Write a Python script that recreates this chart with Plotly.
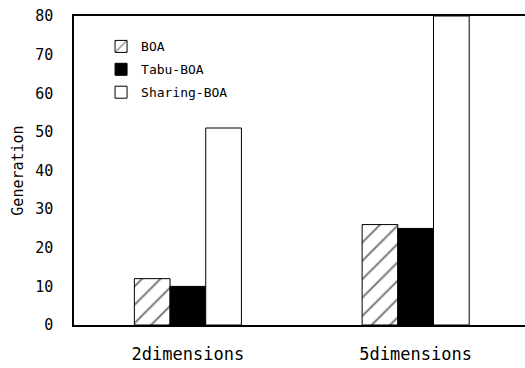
import plotly.graph_objects as go

categories = ["2dimensions", "5dimensions"]
series_names = ["BOA", "Tabu-BOA", "Sharing-BOA"]
boa = [12, 26]
tabu = [10, 25]
sharing = [51, 80]
y_ticks = [0, 10, 20, 30, 40, 50, 60, 70, 80]

FONT = "DejaVu Sans Mono"

fig = go.Figure()
fig.add_trace(go.Bar(
    x=categories, y=boa, name=series_names[0], legendgroup="a",
    marker=dict(color="white", line=dict(color="black", width=1),
                pattern=dict(shape="/", size=13, solidity=0.16, fgcolor="black", bgcolor="white")),
))
fig.add_trace(go.Bar(
    x=categories, y=tabu, name=series_names[1], legendgroup="b",
    marker=dict(color="black", line=dict(color="black", width=1)),
))
fig.add_trace(go.Bar(
    x=categories, y=sharing, name=series_names[2], legendgroup="c",
    marker=dict(color="white", line=dict(color="black", width=1)),
))

fig.update_layout(
    width=525, height=368,
    margin=dict(l=74, r=0, t=16, b=43),
    paper_bgcolor="white", plot_bgcolor="white",
    barmode="group", bargap=0.53, bargroupgap=0,
    font=dict(family=FONT, color="black"),
    showlegend=True,
    legend=dict(x=0.06, y=0.95, xanchor="left", yanchor="top",
                font=dict(size=13, family=FONT), bgcolor="rgba(0,0,0,0)",
                tracegroupgap=3, itemwidth=30),
    xaxis=dict(range=[-0.5, 1.48], showline=True, linecolor="black", linewidth=1.5,
               mirror=True, showgrid=False, ticks="", tickfont=dict(size=17, family=FONT),
               ticklabelstandoff=13, automargin=False),
    yaxis=dict(range=[0, 80], tickvals=y_ticks, showline=True, linecolor="black", linewidth=1.5,
               mirror=False, showgrid=False, ticks="", tickfont=dict(size=15, family=FONT),
               ticklabelstandoff=16, automargin=False,
               title=dict(text="Generation", font=dict(size=15, family=FONT), standoff=8)),
)

fig.write_html("out.html")
